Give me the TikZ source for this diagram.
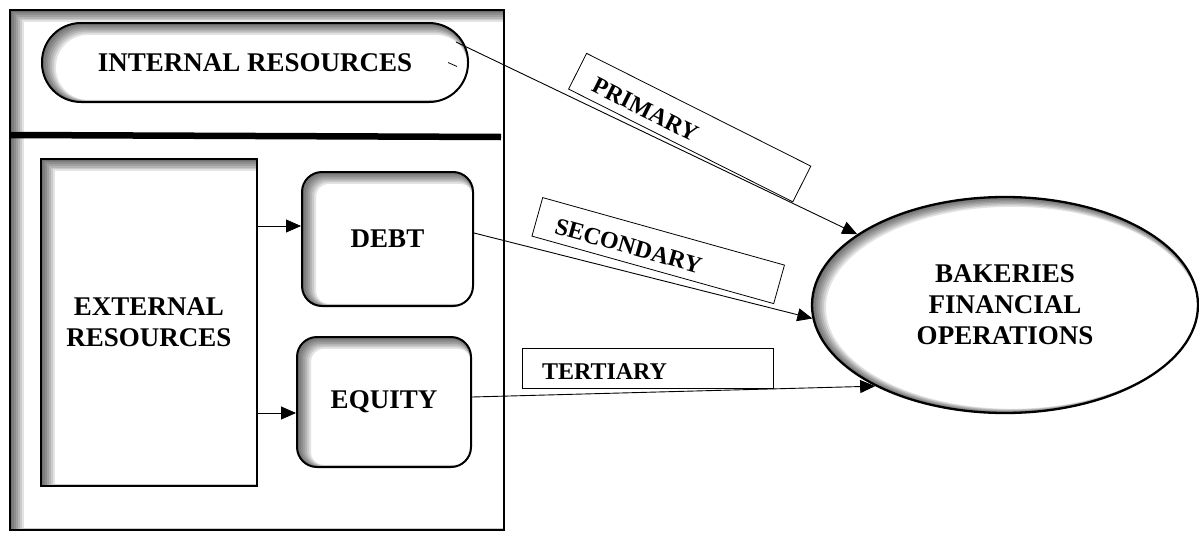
\documentclass[tikz,border=0pt]{standalone}
\usepackage{fontspec}
\setmainfont{Liberation Serif}
\usetikzlibrary{arrows.meta,shapes.geometric}

\tikzset{
  inshade/.style={path picture={
    \foreach \w in {1,...,7}
      \draw[line width=2pt*\w,opacity=.11,rounded corners=#1]
        ([xshift=1pt*\w,yshift=-.7pt*\w]path picture bounding box.south west) rectangle
        ([xshift=1pt*\w,yshift=-.7pt*\w]path picture bounding box.north east);}},
  ovalshade/.style 2 args={path picture={
    \foreach \w in {1,...,7}
      \draw[line width=2pt*\w,opacity=.11]
        ([xshift=1pt*\w,yshift=-.4pt*\w]path picture bounding box.center)
        ellipse [x radius=#1,y radius=#2];}},
  box/.style={draw,line width=2pt,inner sep=0pt,align=center,
    font=\fontsize{27}{31}\bfseries\selectfont},
  tag/.style={draw,line width=.8pt,minimum height=40pt,inner xsep=20pt,
    text width=211pt,align=left,text height=23pt,text depth=0pt,
    font=\fontsize{24}{28}\bfseries\selectfont},
  link/.style={line width=.9pt,-{Triangle[length=15pt,width=13pt]}},
}

\begin{document}
\begin{tikzpicture}[x=1pt,y=-1pt]
\useasboundingbox (0,0) rectangle (1199,533);
% left panel
\node[draw,line width=2.5pt,inner sep=0pt,minimum width=494pt,minimum height=520pt,inshade=0pt] (panel) at (257,270) {};
\draw[line width=6.5pt] (11,135) -- (501,137);

\node[box,minimum width=426pt,minimum height=79pt,rounded corners=39pt,inshade=39pt] (intres) at (255,62.5) {INTERNAL RESOURCES};
\draw[line width=.8pt] (448,62.5) -- (457,66.5);

\node[box,minimum width=216pt,minimum height=327pt,inshade=0pt] (ext) at (149,322.5) {EXTERNAL\\RESOURCES};
\node[box,minimum width=171pt,minimum height=134pt,rounded corners=20pt,inshade=20pt] (debt) at (387.5,239) {DEBT};
\node[box,minimum width=174pt,minimum height=130pt,rounded corners=20pt,inshade=20pt] (equity) at (384,402) {EQUITY};

\node[box,ellipse,line width=2.3pt,minimum width=386pt,minimum height=216pt,ovalshade={193pt}{108pt}] (ops) at (1005,305) {BAKERIES\\FINANCIAL\\OPERATIONS};

% labels on the links
\node[tag,rotate=-26.7] (primary) at (689.7,127.6) {PRIMARY};
\node[tag,rotate=-15.6] (secondary) at (658.2,250.6) {SECONDARY};
\node[tag] (tertiary) at (647.5,368) {TERTIARY};

\coordinate (to-debt) at ([yshift=13pt]debt.west);
\coordinate (to-equity) at ([yshift=-11pt]equity.west);
\draw[link] (to-debt -| ext.east) -- (to-debt);
\draw[link] (to-equity -| ext.east) -- (to-equity);
\draw[link] ([xshift=-13pt,yshift=-20pt]intres.north east) -- (ops);
\draw[link] ([yshift=6pt]debt.east) -- (ops.184);
\draw[link] ([yshift=5pt]equity.east) -- (ops.212);
\end{tikzpicture}
\end{document}
